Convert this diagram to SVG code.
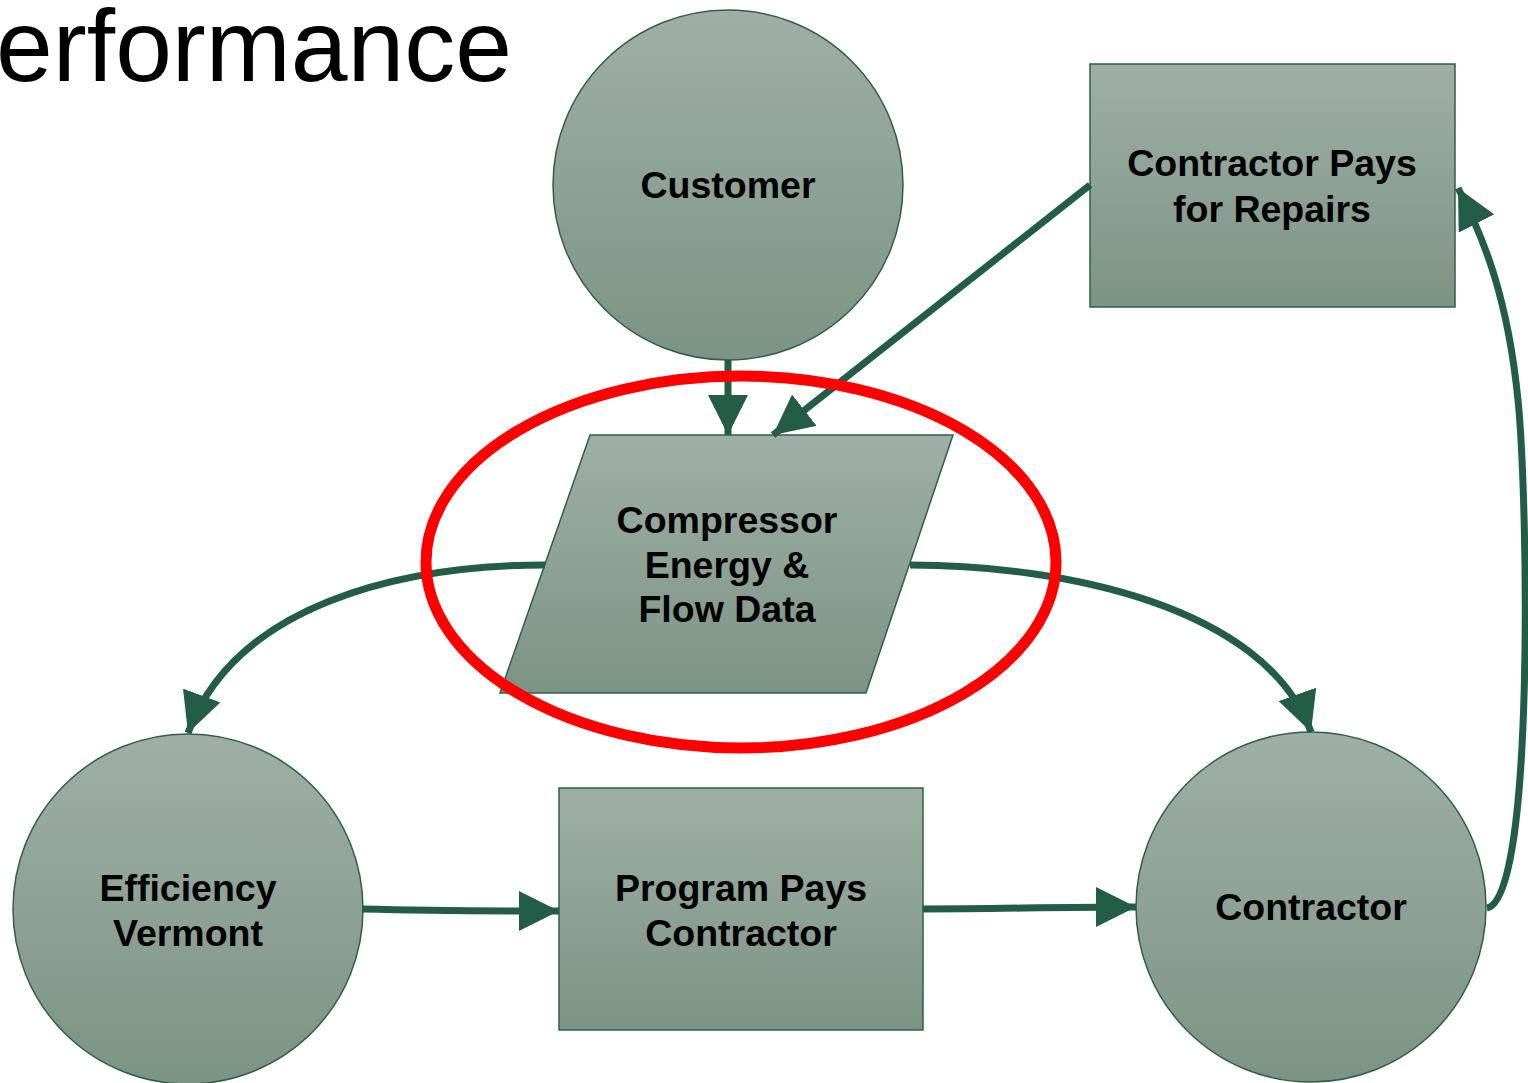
<svg xmlns="http://www.w3.org/2000/svg" width="1528" height="1083" viewBox="0 0 1528 1083">
<defs>
<linearGradient id="g" x1="0" y1="0" x2="0" y2="1">
<stop offset="0" stop-color="#9fafa5"/>
<stop offset="1" stop-color="#7c9484"/>
</linearGradient>
<marker id="ah" viewBox="0 0 40 40" refX="40" refY="20" markerWidth="40" markerHeight="40" markerUnits="userSpaceOnUse" orient="auto">
<path d="M0,0 L40,20 L0,40 Z" fill="#245d47"/>
</marker>
<style>
.n{fill:url(#g);stroke:#2f5f4c;stroke-width:1.5}
.t{font-family:"Liberation Sans",Arial,sans-serif;font-weight:bold;font-size:37.5px;fill:#000;text-anchor:middle}
.c{fill:none;stroke:#245d47;stroke-width:7;marker-end:url(#ah)}
</style>
</defs>
<rect width="1528" height="1083" fill="#fff"/>
<text x="512" y="81" font-family="'Liberation Sans',Arial,sans-serif" font-size="102" text-anchor="end" fill="#000">erformance</text>
<g id="customer"><circle class="n" cx="728" cy="185" r="175"/><text class="t" x="728" y="198">Customer</text></g>
<g id="contractor-pays"><rect class="n" x="1090" y="64" width="365" height="243"/><text class="t" x="1272" y="176">Contractor Pays</text><text class="t" x="1272" y="222">for Repairs</text></g>
<g id="data"><polygon class="n" points="590,435 953,435 866,693 500,693"/><text class="t" x="727" y="533">Compressor</text><text class="t" x="727" y="578">Energy &amp;</text><text class="t" x="727" y="622">Flow Data</text></g>
<g id="efficiency-vermont"><circle class="n" cx="188" cy="909" r="175"/><text class="t" x="188" y="901">Efficiency</text><text class="t" x="188" y="946">Vermont</text></g>
<g id="program-pays"><rect class="n" x="559" y="788" width="364" height="242"/><text class="t" x="741" y="901">Program Pays</text><text class="t" x="741" y="946">Contractor</text></g>
<g id="contractor"><circle class="n" cx="1311" cy="907" r="175"/><text class="t" x="1311" y="920">Contractor</text></g>
<g id="connectors">
<path class="c" d="M728,360 L728,435"/>
<path class="c" d="M1090,185 L773,435"/>
<path class="c" d="M545,565 C400,565 235,605 188,733"/>
<path class="c" d="M910,565 C1060,565 1265,605 1311,732"/>
<path class="c" d="M362,909 C440,911 480,911 559,911"/>
<path class="c" d="M923,909 C1000,909 1050,907 1136,907"/>
<path class="c" d="M1487,908 C1535,900 1528,500 1518,400 C1508,300 1485,240 1458,188"/>
</g>
<ellipse cx="741" cy="562" rx="315" ry="186" fill="none" stroke="#ff0000" stroke-width="11"/>
</svg>
